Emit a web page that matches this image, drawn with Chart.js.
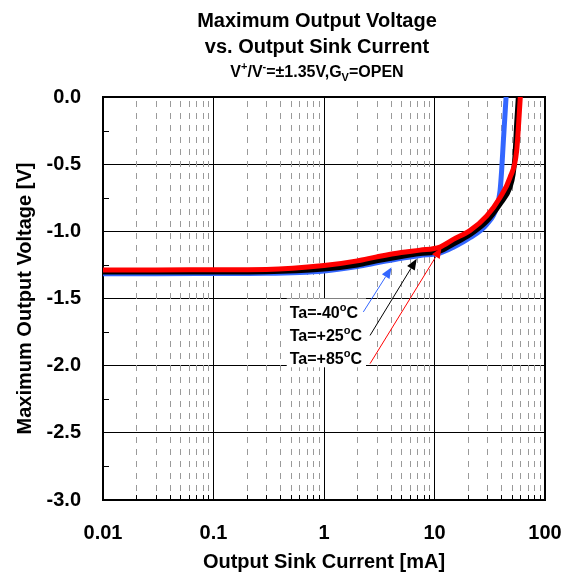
<!DOCTYPE html>
<html><head><meta charset="utf-8">
<script src="https://cdn.jsdelivr.net/npm/chart.js@4.4.0/dist/chart.umd.min.js"></script>
<style>html,body{margin:0;padding:0;background:#fff;}</style>
</head><body>
<canvas id="c" width="573" height="579" style="width:573px;height:579px;display:block"></canvas>
<script>
// ---- data ----
const currentRed   = [0.01, 0.03, 0.1, 0.3, 1, 2, 3, 5, 7.4, 11.2, 14.8, 20.9, 29.7, 39.2, 48.2, 55.4, 60];
const voltageRed   = [-1.287, -1.287, -1.286, -1.284, -1.255, -1.22, -1.19, -1.157, -1.14, -1.117, -1.06, -0.995, -0.885, -0.748, -0.6, -0.4, 0.02];
const currentBlack = [0.01, 0.03, 0.1, 0.3, 1, 2, 3, 5, 7.4, 11.2, 14.8, 20.9, 29.7, 39.2, 48.2, 51.5, 53.4, 55.4, 57.6];
const voltageBlack = [-1.303, -1.303, -1.302, -1.300, -1.28, -1.25, -1.22, -1.187, -1.165, -1.147, -1.094, -1.025, -0.925, -0.797, -0.673, -0.574, -0.45, -0.2, 0.02];
const currentBlue  = [0.01, 0.03, 0.1, 0.3, 1, 2, 3, 5, 7.4, 11.2, 14.8, 20.9, 29.7, 36.5, 39.2, 40.5, 42, 44.6];
const voltageBlue  = [-1.315, -1.315, -1.314, -1.312, -1.295, -1.262, -1.235, -1.2, -1.18, -1.162, -1.119, -1.048, -0.948, -0.822, -0.698, -0.549, -0.327, 0.02];
const seriesNames  = ['Ta=+85', 'Ta=+25', 'Ta=-40'];
const seriesColors = ['#FF0000', '#000000', '#3366FF'];
const xTickValues  = [0.01, 0.1, 1, 10, 100];
const xTickLabels  = ['0.01', '0.1', '1', '10', '100'];
const yTickValues  = [-3, -2.5, -2, -1.5, -1, -0.5, 0];
const yTickLabels  = ['-3.0', '-2.5', '-2.0', '-1.5', '-1.0', '-0.5', '0.0'];
const yMinorValues = [-2.75, -2.25, -1.75, -1.25, -0.75, -0.25];
const titleLines   = ['Maximum Output Voltage', 'vs. Output Sink Current'];
const xTitle = 'Output Sink Current [mA]';
const yTitle = 'Maximum Output Voltage [V]';
// annotation labels (data coords)
const annLabels   = ['Ta=-40', 'Ta=+25', 'Ta=+85'];
const annLabelX   = 0.49;
const annLabelY   = [-1.60, -1.775, -1.945];
const annBox      = {x0: 0.46, x1: 2.4, y0: -1.5, y1: -2.012};
const arrowStart  = [[2.27, -1.60], [2.61, -1.775], [2.61, -1.985]];
const arrowEnd    = [[4.09, -1.268], [6.9, -1.205], [11.6, -1.119]];
const arrowColors = ['#3366FF', '#000000', '#FF0000'];

const FONT = '"Liberation Sans", Arial, Helvetica, sans-serif';
Chart.defaults.font.family = FONT;
Chart.defaults.color = '#000';

function pts(xs, ys){ return xs.map((x,i)=>({x:x, y:ys[i]})); }

const minorX = [];
[0.01, 0.1, 1, 10].forEach(d => { for (let m = 2; m <= 9; m++) minorX.push(+(d*m).toPrecision(3)); });

const gridPlugin = {
  id: 'minorGrid',
  beforeDatasetsDraw(chart){
    const {ctx, chartArea:a, scales:{x, y}} = chart;
    ctx.save();
    ctx.strokeStyle = '#9a9a9a'; ctx.lineWidth = 1; ctx.setLineDash([6,6]);
    minorX.forEach(v => {
      const px = Math.round(x.getPixelForValue(v)) + 0.5;
      ctx.beginPath(); ctx.moveTo(px, a.top + 4); ctx.lineTo(px, a.bottom); ctx.stroke();
    });
    ctx.setLineDash([]);
    ctx.strokeStyle = '#000';
    minorX.forEach(v => {
      const px = Math.round(x.getPixelForValue(v)) + 0.5;
      ctx.beginPath(); ctx.moveTo(px, a.bottom); ctx.lineTo(px, a.bottom - 5); ctx.stroke();
    });
    yMinorValues.forEach(v => {
      const py = Math.round(y.getPixelForValue(v)) + 0.5;
      ctx.beginPath(); ctx.moveTo(a.left, py); ctx.lineTo(a.left + 6, py); ctx.stroke();
    });
    ctx.lineWidth = 2;
    ctx.beginPath(); ctx.moveTo(a.left, a.top); ctx.lineTo(a.right, a.top); ctx.lineTo(a.right, a.bottom); ctx.stroke();
    ctx.restore();
  }
};

function drawRich(ctx, parts, x, y, size, align){
  const big = 'bold ' + size + 'px ' + FONT;
  const small = 'bold ' + Math.round(size*0.68) + 'px ' + FONT;
  let w = 0;
  parts.forEach(p => { ctx.font = (p.sup||p.sub) ? small : big; w += ctx.measureText(p.t).width; });
  let cx = align === 'center' ? x - w/2 : x;
  ctx.textAlign = 'left'; ctx.textBaseline = 'alphabetic';
  parts.forEach(p => {
    ctx.font = (p.sup||p.sub) ? small : big;
    const dy = p.sup ? -size*0.45 : (p.sub ? size*0.22 : 0);
    ctx.fillText(p.t, cx, y + dy);
    cx += ctx.measureText(p.t).width;
  });
}

const annPlugin = {
  id: 'annot',
  afterDatasetsDraw(chart){
    const {ctx, scales:{x, y}} = chart;
    ctx.save();
    const bx0 = x.getPixelForValue(annBox.x0), bx1 = x.getPixelForValue(annBox.x1);
    const by0 = y.getPixelForValue(annBox.y0), by1 = y.getPixelForValue(annBox.y1);
    ctx.fillStyle = '#fff';
    ctx.fillRect(bx0, by0, bx1 - bx0, by1 - by0);
    ctx.fillStyle = '#000';
    annLabels.forEach((t, i) => {
      const px = x.getPixelForValue(annLabelX), py = y.getPixelForValue(annLabelY[i]) + 6;
      drawRich(ctx, [{t:t}, {t:'o', sup:true}, {t:'C'}], px, py, 16, 'left');
    });
    arrowStart.forEach((s, i) => {
      const x0 = x.getPixelForValue(s[0]), y0 = y.getPixelForValue(s[1]);
      const x1 = x.getPixelForValue(arrowEnd[i][0]), y1 = y.getPixelForValue(arrowEnd[i][1]);
      const ang = Math.atan2(y1 - y0, x1 - x0);
      const L = 11, W = 4.5;
      ctx.strokeStyle = arrowColors[i]; ctx.fillStyle = arrowColors[i]; ctx.lineWidth = 1;
      ctx.beginPath(); ctx.moveTo(x0, y0); ctx.lineTo(x1 - L*Math.cos(ang), y1 - L*Math.sin(ang)); ctx.stroke();
      ctx.beginPath();
      ctx.moveTo(x1, y1);
      ctx.lineTo(x1 - L*Math.cos(ang) + W*Math.sin(ang), y1 - L*Math.sin(ang) - W*Math.cos(ang));
      ctx.lineTo(x1 - L*Math.cos(ang) - W*Math.sin(ang), y1 - L*Math.sin(ang) + W*Math.cos(ang));
      ctx.closePath(); ctx.fill();
    });
    ctx.restore();
  },
  afterDraw(chart){
    const {ctx, chartArea:a} = chart;
    const cx = (a.left + a.right)/2 - 7;
    ctx.save();
    ctx.fillStyle = '#000';
    ctx.textAlign = 'center'; ctx.textBaseline = 'alphabetic';
    ctx.font = 'bold 20px ' + FONT;
    ctx.fillText(titleLines[0], cx, 27);
    ctx.fillText(titleLines[1], cx, 53);
    drawRich(ctx, [{t:'V'},{t:'+',sup:true},{t:'/V'},{t:'-',sup:true},{t:'=±1.35V,G'},{t:'V',sub:true},{t:'=OPEN'}], cx, 77, 16, 'center');
    ctx.restore();
  }
};

const mk = (i, xs, ys) => ({
  label: seriesNames[i], data: pts(xs, ys), borderColor: seriesColors[i], backgroundColor: seriesColors[i],
  borderWidth: 5, pointRadius: 0, showLine: true, cubicInterpolationMode: 'monotone', order: i
});

new Chart(document.getElementById('c'), {
  type: 'scatter',
  data: { datasets: [ mk(0, currentRed, voltageRed), mk(1, currentBlack, voltageBlack), mk(2, currentBlue, voltageBlue) ] },
  options: {
    responsive: false, animation: false,
    layout: { padding: { top: 97, right: 28, left: 0, bottom: 0 } },
    plugins: { legend: { display: false }, tooltip: { enabled: false }, title: { display: false } },
    scales: {
      x: {
        type: 'logarithmic', min: 0.01, max: 100,
        afterBuildTicks: s => { s.ticks = xTickValues.map(v => ({value: v, major: true})); },
        ticks: { autoSkip: false, maxRotation: 0, padding: 21, color: '#000', font: {size: 20, weight: 'bold'},
                 callback: (v) => { const k = xTickValues.findIndex(t => Math.abs(Math.log10(t) - Math.log10(v)) < 1e-6); return k >= 0 ? xTickLabels[k] : ''; } },
        grid: { color: '#000', lineWidth: 1, drawTicks: false },
        border: { color: '#000', width: 2 },
        title: { display: true, text: xTitle, color: '#000', font: {size: 20, weight: 'bold'}, padding: {top: 0, bottom: 5} },
        afterFit: s => { s.height = 79; s.paddingLeft = 0; s.paddingRight = 0; }
      },
      y: {
        type: 'linear', min: -3, max: 0,
        afterBuildTicks: s => { s.ticks = yTickValues.map(v => ({value: v})); },
        ticks: { autoSkip: false, padding: 22, color: '#000', font: {size: 20, weight: 'bold'},
                 callback: (v) => { const k = yTickValues.findIndex(t => Math.abs(t - v) < 1e-6); return k >= 0 ? yTickLabels[k] : ''; } },
        grid: { color: '#000', lineWidth: 1, drawTicks: false },
        border: { color: '#000', width: 2 },
        title: { display: true, text: yTitle, color: '#000', font: {size: 20, weight: 'bold'}, padding: {top: 13, bottom: 0} },
        afterFit: s => { s.width = 103; s.paddingTop = 0; s.paddingBottom = 0; }
      }
    }
  },
  plugins: [gridPlugin, annPlugin]
});
</script>
</body></html>
